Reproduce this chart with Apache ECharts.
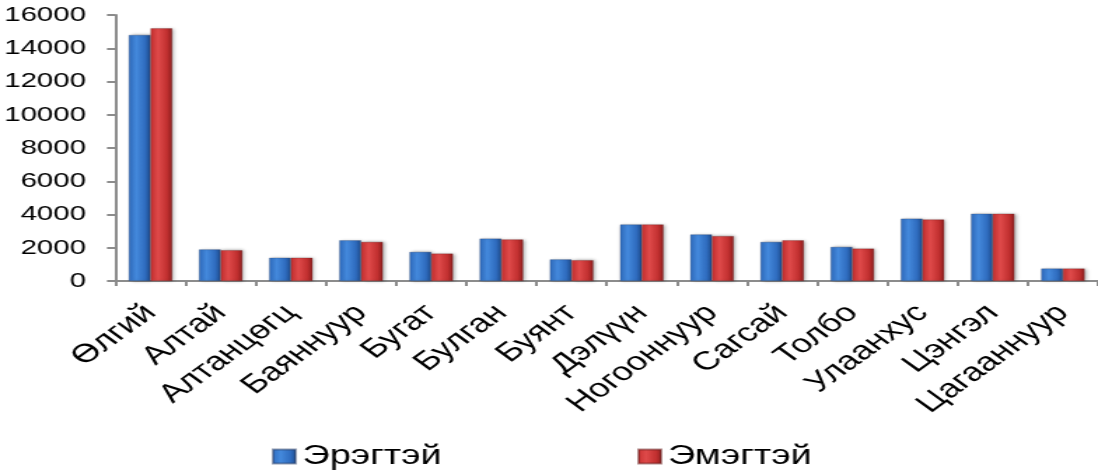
<!DOCTYPE html>
<html>
<head>
<meta charset="utf-8">
<script src="https://cdn.jsdelivr.net/npm/echarts@6/dist/echarts.min.js"></script>
<style>
  html, body { margin: 0; padding: 0; background: #ffffff; }
  #wrap { width: 1098px; height: 470px; overflow: hidden; position: relative; }
  #chart { width: 784px; height: 470px; transform: scaleX(1.4005); transform-origin: 0 0; }
</style>
</head>
<body>
<div id="wrap"><div id="chart"></div></div>
<script>
// ---- data ----
const categories = ['Өлгий', 'Алтай', 'Алтанцөгц', 'Баяннуур', 'Бугат', 'Булган', 'Буянт', 'Дэлүүн', 'Ногооннуур', 'Сагсай', 'Толбо', 'Улаанхус', 'Цэнгэл', 'Цагааннуур'];
const seriesNames = ['Эрэгтэй', 'Эмэгтэй'];
const maleValues   = [14800, 1900, 1400, 2450, 1750, 2550, 1300, 3400, 2800, 2350, 2050, 3750, 4050, 750];
const femaleValues = [15200, 1850, 1400, 2350, 1650, 2500, 1250, 3400, 2700, 2450, 1950, 3700, 4050, 750];
const yTicks = [0, 2000, 4000, 6000, 8000, 10000, 12000, 14000, 16000];

const FONT = '"Liberation Sans", Arial, sans-serif';

const blueGrad = new echarts.graphic.LinearGradient(0, 0, 1, 0, [
  { offset: 0, color: '#2f6cbf' },
  { offset: 0.35, color: '#4489dc' },
  { offset: 0.75, color: '#2f6cbf' },
  { offset: 1, color: '#1d4a8a' }
]);
const redGrad = new echarts.graphic.LinearGradient(0, 0, 1, 0, [
  { offset: 0, color: '#c83030' },
  { offset: 0.35, color: '#df4a4a' },
  { offset: 0.75, color: '#c23030' },
  { offset: 1, color: '#8e1e1e' }
]);

const chart = echarts.init(document.getElementById('chart'));
chart.setOption({
  animation: false,
  backgroundColor: '#ffffff',
  grid: { left: 81, right: -2, top: 15, bottom: 189, containLabel: false },
  legend: [
    {
      data: [seriesNames[0]], left: 189, top: 438,
      icon: 'rect', itemWidth: 16, itemHeight: 14, itemGap: 0,
      textStyle: { fontFamily: FONT, fontSize: 27, color: '#000' }
    },
    {
      data: [seriesNames[1]], left: 450, top: 438,
      icon: 'rect', itemWidth: 16, itemHeight: 14, itemGap: 0,
      textStyle: { fontFamily: FONT, fontSize: 27, color: '#000' }
    }
  ],
  xAxis: {
    type: 'category',
    data: categories,
    axisLine: { lineStyle: { color: '#8c8c8c', width: 2 } },
    axisTick: { show: true, length: 5, lineStyle: { color: '#8c8c8c', width: 2 } },
    axisLabel: { rotate: 45, margin: 28, interval: 0, fontFamily: FONT, fontSize: 26, color: '#000' },
    splitLine: { show: false }
  },
  yAxis: {
    type: 'value',
    min: yTicks[0], max: yTicks[yTicks.length - 1], interval: yTicks[1] - yTicks[0],
    axisLine: { show: true, lineStyle: { color: '#8c8c8c', width: 2 } },
    axisTick: { show: true, length: 6, lineStyle: { color: '#8c8c8c', width: 2 } },
    axisLabel: { margin: 21, fontFamily: FONT, fontSize: 21, color: '#000', formatter: (v) => String(v) },
    splitLine: { show: false }
  },
  series: [
    {
      name: seriesNames[0], type: 'bar', data: maleValues,
      barWidth: '31%', barGap: '0%',
      itemStyle: { color: blueGrad, borderColor: 'rgba(40,60,100,0.5)', borderWidth: 0.5,
        shadowBlur: 3, shadowColor: 'rgba(0,0,0,0.35)', shadowOffsetX: 1.5, shadowOffsetY: 0 }
    },
    {
      name: seriesNames[1], type: 'bar', data: femaleValues,
      barWidth: '31%', barGap: '0%',
      itemStyle: { color: redGrad, borderColor: 'rgba(100,30,30,0.5)', borderWidth: 0.5,
        shadowBlur: 3, shadowColor: 'rgba(0,0,0,0.35)', shadowOffsetX: 1.5, shadowOffsetY: 0 }
    }
  ]
});
</script>
</body>
</html>
